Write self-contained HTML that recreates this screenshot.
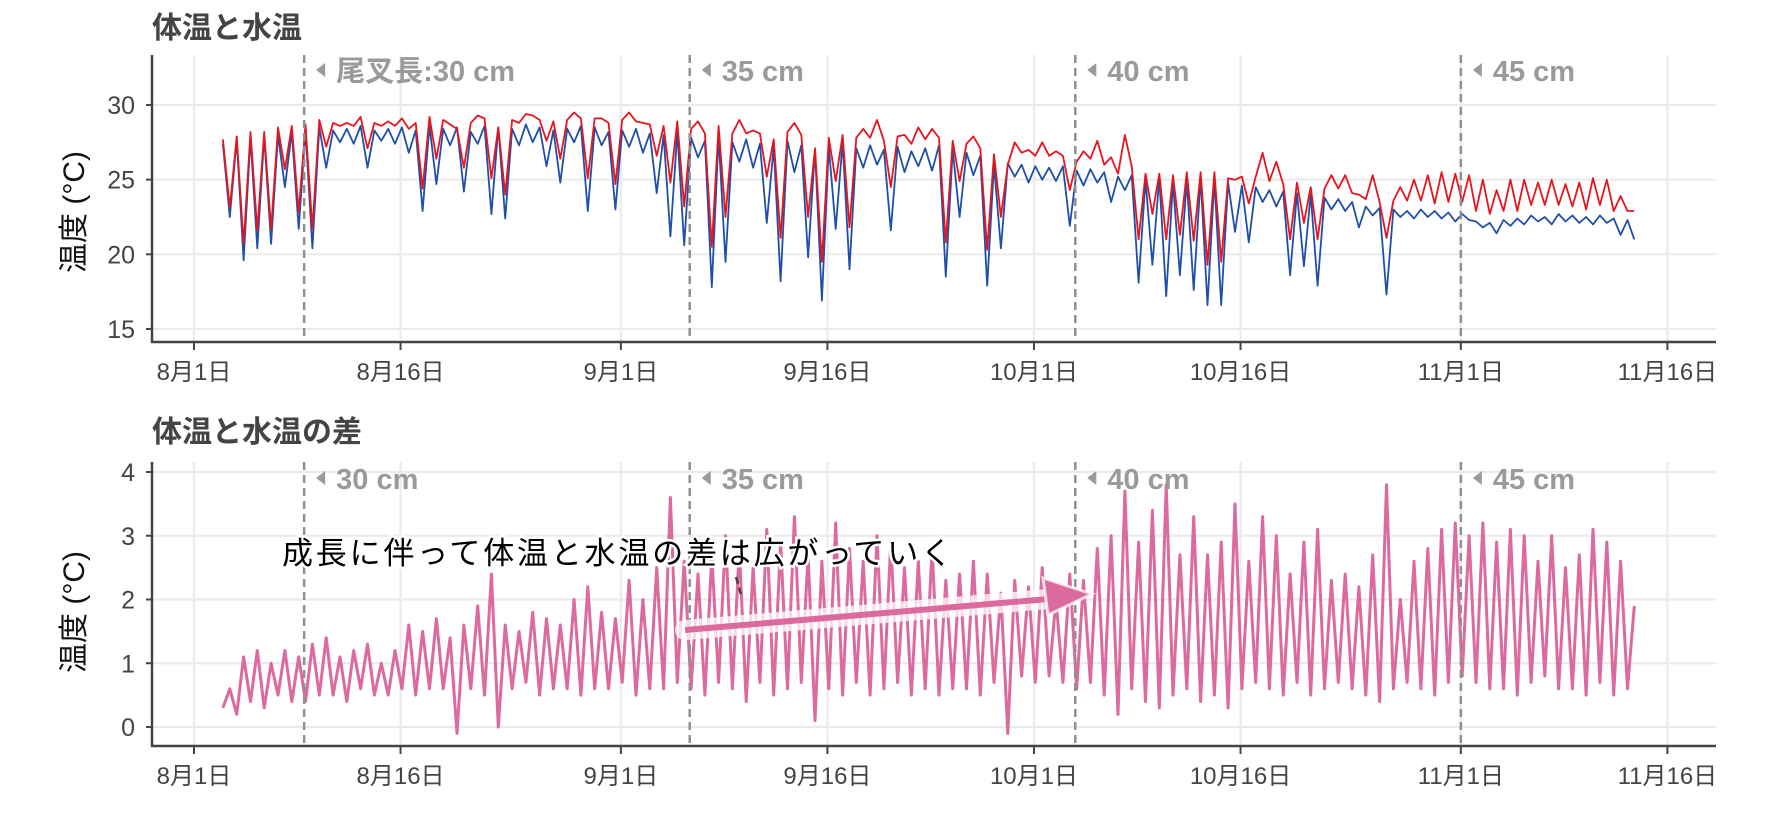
<!DOCTYPE html>
<html><head><meta charset="utf-8"><style>
html,body{margin:0;padding:0;background:#fff;}
svg{display:block;font-family:"Liberation Sans","Noto Sans CJK JP",sans-serif;}
</style></head><body>
<svg id="chart" width="1778" height="820" viewBox="0 0 1778 820" xmlns="http://www.w3.org/2000/svg">
<g id="top"></g>
<g id="bot"></g>
</svg>
<script>
// ---- data ----
const startDay = 2; // days after Aug 1
const dateTickDays = [0, 15, 31, 46, 61, 76, 92, 107];
const dateTickLabels = ["8月1日","8月16日","9月1日","9月16日","10月1日","10月16日","11月1日","11月16日"];
const topTicks = [15, 20, 25, 30];
const botTicks = [0, 1, 2, 3, 4];
const lengthDays = [8, 36, 64, 92];
const lengthLabelsTop = ["尾叉長:30 cm","35 cm","40 cm","45 cm"];
const lengthLabelsBot = ["30 cm","35 cm","40 cm","45 cm"];
const waterBase = [27.4,27.7,27.8,27.9,28.0,28.2,
28.3,28.5,28.3,28.4,28.6,28.3,28.4,28.5,
28.3,28.6,28.4,28.5,28.2,28.6,28.5,28.4,28.7,28.5,28.3,28.4,28.6,28.5,28.2,28.3,28.4,28.1,28.0,28.2,
27.8,27.6,27.9,27.5,27.7,27.4,27.2,27.6,27.3,27.0,
27.2,27.5,27.1,27.3,27.0,27.2,26.9,27.1,27.3,27.0,
26.8,26.6,26.0,26.1,26.0,25.9,25.8,25.9,25.6,25.7,
25.5,25.2,25.3,25.0,25.1,24.8,24.9,25.1,25.0,24.8,24.6,
24.5,24.3,24.2,24.1,24.0,23.8,23.7,23.5,
23.2,23.1,23.0,22.9,23.0,22.9,22.8,22.7,
22.2,22.1,22.3,22.4,22.6,22.5,22.7,22.6,22.5,22.6,22.4,22.3];
const waterMin = [22.5,19.6,20.4,20.7,24.5,21.7,
20.4,25.8,27.5,27.4,25.8,27.6,27.4,26.8,
22.9,24.7,27.3,24.2,27.4,22.7,22.4,27.3,27.5,25.9,24.8,27.5,22.9,27.3,23.0,27.2,26.8,24.1,21.2,20.6,
26.5,17.8,19.5,26.2,25.8,22.1,18.2,25.5,19.8,16.9,
21.7,19.0,25.8,26.0,21.6,25.5,25.9,25.6,18.5,22.5,
25.3,17.9,20.4,25.2,24.8,25.0,24.9,21.9,24.6,24.8,
23.5,24.3,18.1,19.3,17.2,18.6,17.6,16.6,16.6,21.5,20.8,
23.5,23.2,18.6,19.2,17.9,23.0,22.9,21.8,
22.6,17.3,22.5,22.4,22.5,22.4,22.2,22.3,
21.8,21.4,21.9,22.0,22.2,22.0,22.2,22.1,22.0,22.1,21.3,21.0];
const diffLow = [0.3,0.2,0.4,0.3,0.5,0.4,
0.4,0.5,0.5,0.4,0.6,0.5,0.5,0.6,
0.5,0.6,0.6,-0.1,0.6,0.5,0.0,0.6,0.7,0.5,0.6,0.6,0.5,0.6,0.6,0.7,0.5,0.6,0.6,0.7,
0.6,0.5,0.7,0.6,0.4,0.7,0.5,0.6,0.7,0.1,
0.6,0.5,0.7,0.5,0.6,0.7,0.5,0.6,0.5,0.6,
0.6,0.5,0.7,-0.1,0.8,0.7,0.8,0.7,0.6,0.7,
0.5,0.2,0.6,0.4,0.3,0.5,0.6,0.4,0.5,0.3,0.6,
0.7,0.6,0.5,0.7,0.5,0.6,0.7,0.6,
0.5,0.4,0.6,0.7,0.6,0.5,0.7,0.8,
0.7,0.6,0.6,0.5,0.7,0.8,0.6,0.6,0.5,0.7,0.5,0.6];
const diffHigh = [0.6,1.1,1.2,1.0,1.2,1.1,
1.3,1.4,1.1,1.2,1.3,1.0,1.2,1.6,
1.5,1.7,1.4,1.6,1.9,2.4,1.6,1.5,1.8,1.7,1.6,2.0,2.2,1.8,1.7,2.3,2.0,2.5,3.6,2.6,
2.4,2.7,3.0,2.8,2.5,3.1,2.9,3.3,2.7,2.6,
3.2,2.8,2.6,3.0,2.9,2.5,2.6,2.8,2.3,2.4,
2.6,2.4,2.1,2.3,2.2,2.5,2.0,2.4,2.3,2.8,
3.0,3.7,2.9,3.4,3.8,2.7,3.3,2.7,2.9,3.5,2.6,
3.3,3.0,2.4,2.9,3.1,2.3,2.4,2.2,
2.7,3.8,2.0,2.6,2.8,3.1,3.2,3.0,
3.2,2.9,3.1,3.0,2.6,3.0,2.5,2.7,3.1,2.9,2.6,1.9];

// ---- scales ----
const X0 = 194, PXDAY = 13.77;
const xs = d => X0 + d * PXDAY;
const yTop = v => 105 + (30 - v) * 14.93;
const yBot = v => 727 - v * 63.75;
const NS = "http://www.w3.org/2000/svg";
function mk(tag, parent, attrs, text){
  const e = document.createElementNS(NS, tag);
  for (const k in attrs) e.setAttribute(k, attrs[k]);
  if (text !== undefined) e.textContent = text;
  parent.appendChild(e); return e;
}
const LEFT = 152, RIGHT = 1716;

function panel(g, cfg){
  cfg.ticks.forEach(t => {
    const l = mk('line', g, {x1:LEFT, x2:RIGHT, y1:cfg.y(t), y2:cfg.y(t), stroke:'#ebebeb', 'stroke-width':2.2});
    
    
    const tx = mk('text', g, {x:135, y:cfg.y(t)+9, 'text-anchor':'end', 'font-size':25, fill:'#444'}, String(t));
    
    
    const tk = mk('line', g, {x1:LEFT-6, x2:LEFT, y1:cfg.y(t), y2:cfg.y(t), stroke:'#444', 'stroke-width':2});
    
    
  });
  dateTickDays.forEach((d, i) => {
    const l = mk('line', g, {x1:xs(d), x2:xs(d), y1:cfg.top, y2:cfg.axisY, stroke:'#ebebeb', 'stroke-width':2.2});
    
    
    const tk = mk('line', g, {x1:xs(d), x2:xs(d), y1:cfg.axisY, y2:cfg.axisY+8, stroke:'#444', 'stroke-width':2});
    
    
    const tx = mk('text', g, {x:xs(d), y:cfg.axisY+38, 'text-anchor':'middle', 'font-size':24, fill:'#444'}, dateTickLabels[i]);
    
    
  });
  cfg.series.forEach(s => {
    const p = mk('path', g, {d:s.d, fill:'none', stroke:s.color, 'stroke-width':s.w, 'stroke-linejoin':'round'});
    
    
  });
  lengthDays.forEach((d, i) => {
    const l = mk('line', g, {x1:xs(d), x2:xs(d), y1:cfg.top, y2:cfg.axisY, stroke:'#909090', 'stroke-width':2.5, 'stroke-dasharray':'8 5'});
    
    
    const x = xs(d) + 12, y = cfg.labelY;
    const tri = mk('polygon', g, {points:`${x},${y} ${x+9},${y-7} ${x+9},${y+7}`, fill:'#9a9a9a'});
    
    
    const tx = mk('text', g, {x:x+20, y:y+11, 'font-size':29, 'font-weight':'bold', fill:'#9a9a9a'}, cfg.labels[i]);
    
    
  });
  const ax = mk('path', g, {d:`M${LEFT},${cfg.top} V${cfg.axisY} H${RIGHT}`, fill:'none', stroke:'#444', 'stroke-width':2.5});
  
  
  const tt = mk('text', g, {x:152, y:cfg.titleY, 'font-size':30, 'font-weight':'bold', fill:'#444'}, cfg.title);
  
  
  const yt = mk('text', g, {x:0, y:0, 'font-size':30, fill:'#111', 'text-anchor':'middle', transform:`translate(84,${cfg.yTitleY}) rotate(-90)`}, '温度 (°C)');
  
  
}

let water = '', body = '', diff = '';
waterBase.forEach((b, i) => {
  const d = startDay + i;
  const w1 = b, w2 = waterMin[i];
  const b1 = w1 + diffLow[i], b2 = w2 + diffHigh[i];
  const c = i === 0 ? 'M' : 'L';
  water += `${c}${xs(d+0.1).toFixed(1)},${yTop(w1).toFixed(1)} L${xs(d+0.6).toFixed(1)},${yTop(w2).toFixed(1)} `;
  body += `${c}${xs(d+0.1).toFixed(1)},${yTop(b1).toFixed(1)} L${xs(d+0.6).toFixed(1)},${yTop(b2).toFixed(1)} `;
  diff += `${c}${xs(d+0.1).toFixed(1)},${yBot(diffLow[i]).toFixed(1)} L${xs(d+0.6).toFixed(1)},${yBot(diffHigh[i]).toFixed(1)} `;
});

panel(document.getElementById('top'), {
  ticks: topTicks, y: yTop, top: 55, axisY: 342, labelY: 70, labels: lengthLabelsTop,
  title: '体温と水温', titleY: 38, yTitleY: 212,
  series: [{d: water, color:'#1f4fa8', w:1.8, name:'water-temperature-line'},
           {d: body, color:'#e8141e', w:1.8, name:'body-temperature-line'}]
});
panel(document.getElementById('bot'), {
  ticks: botTicks, y: yBot, top: 462, axisY: 746, labelY: 478, labels: lengthLabelsBot,
  title: '体温と水温の差', titleY: 442, yTitleY: 612,
  series: [{d: diff, color:'#dd6a9e', w:3, name:'temperature-difference-line'}]
});

const bot = document.getElementById('bot');
const halo = mk('line', bot, {x1:685, y1:630, x2:1060, y2:598, stroke:'rgba(255,255,255,0.75)', 'stroke-width':20, 'stroke-linecap':'round'});


const arr = mk('line', bot, {x1:685, y1:630, x2:1060, y2:598, stroke:'#dd6a9e', 'stroke-width':6});


const head = mk('polygon', bot, {points:'1092,594 1043,578 1048,615', fill:'#dd6a9e', stroke:'rgba(255,255,255,0.75)', 'stroke-width':3});


const dash = mk('line', bot, {x1:736, y1:577, x2:742, y2:598, stroke:'#444', 'stroke-width':2.5, 'stroke-dasharray':'7 4'});


const note = mk('text', bot, {x:282, y:564, 'font-size':31, fill:'#000', stroke:'#fff', 'stroke-width':5, 'paint-order':'stroke', textLength:670}, '成長に伴って体温と水温の差は広がっていく');


</script>
</body></html>
